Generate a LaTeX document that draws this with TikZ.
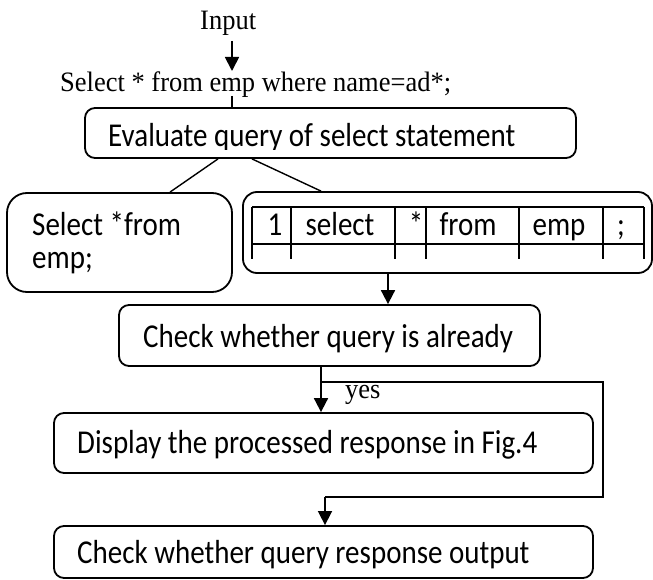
\documentclass[tikz,border=0pt]{standalone}
\usepackage{fontspec}
\usepackage{graphicx}
\setmainfont{Liberation Serif}
\newfontfamily\calfont{Carlito}
\newcommand\vstretch[1]{\scalebox{1}[1.15]{#1}}
\newcommand\vstretchs[1]{\scalebox{1}[1.06]{#1}}
\usetikzlibrary{arrows.meta}
\begin{document}
\begin{tikzpicture}[x=1pt,y=-1pt,
  box/.style={draw,line width=1.8pt,inner sep=0pt},
  serif/.style={inner sep=0pt,anchor=base west,font=\fontsize{26.5}{30}\selectfont},
  cal/.style={inner sep=0pt,anchor=base west,font=\calfont\fontsize{29}{34}\selectfont},
  calc/.style={inner sep=0pt,anchor=base,font=\calfont\fontsize{29}{34}\selectfont},
  arr/.style={line width=1.8pt,-{Triangle[length=14pt,width=14pt]}},
  thin/.style={line width=1.4pt},
  tab/.style={line width=1.8pt}]
\useasboundingbox (0,0) rectangle (653,580);

% boxes
\node[box,rounded corners=10pt,minimum width=491pt,minimum height=50pt] (eval) at (330.5,133) {};
\node[box,rounded corners=20pt,minimum width=225pt,minimum height=99pt] (lbox) at (119.5,242.5) {};
\node[box,rounded corners=14pt,minimum width=409pt,minimum height=81pt] (rbox) at (447.5,232.5) {};
\node[box,rounded corners=10pt,minimum width=421pt,minimum height=61pt] (chk) at (329.5,335.5) {};
\node[box,rounded corners=10pt,minimum width=539pt,minimum height=60pt] (disp) at (323.5,443) {};
\node[box,rounded corners=10pt,minimum width=539pt,minimum height=52pt] (resp) at (323.5,552) {};

% top texts
\node[serif] (inp) at (200,30) {\vstretchs{Input}};
\node[serif] (sel) at (60,92) {\vstretchs{Select * from emp where name=ad*;}};
\node[serif] (yes) at (345,398) {\vstretchs{yes}};

% box texts (clipped as in the original)
\begin{scope}
\clip (85,108) rectangle (576,149.5);
\node[cal] (evalt) at (108,147) {\vstretch{Evaluate query of select statement}};
\end{scope}
\begin{scope}
\clip (7,193) rectangle (232,275);
\node[cal] (lt1) at (32,235) {\vstretch{Select *from}};
\node[cal] (lt2) at (32,268) {\vstretch{emp;}};
\end{scope}
\node[cal] (chkt) at (143,347) {\vstretch{Check whether query is already}};
\node[cal] (dispt) at (77,453) {\vstretch{Display the processed response in Fig.4}};
\begin{scope}
\clip (54,526) rectangle (593,580);
\node[cal] (respt) at (77,563) {\vstretch{Check whether query response output}};
\end{scope}

% table inside right box
\draw[tab] (252,207) -- (644,207);
\draw[tab] (252,244) -- (644,244);
\foreach \cx in {252,291,395,426,519,603,644}
  \draw[tab] (\cx,207) -- (\cx,259);
\node[calc] (c1) at (275,235) {\vstretch{1}};
\node[calc] (c2) at (340,235) {\vstretch{select}};
\node[calc] (c3) at (416,235) {\vstretch{*}};
\node[calc] (c4) at (468,235) {\vstretch{from}};
\node[calc] (c5) at (559,235) {\vstretch{emp}};
\node[calc] (c6) at (621,235) {\vstretch{;}};

% connectors
\coordinate (a1) at (232,41);
\draw[arr] (a1) -- (232,71);
\coordinate (s1) at (232,96);
\draw[line width=1.6pt] (s1) -- (eval.north -| s1);
\draw[thin] (eval.south -| 218,0) -- (lbox.north -| 170,0);
\draw[thin] (eval.south -| 252,0) -- (rbox.north -| 321,0);
\draw[arr] (rbox.south -| 388,0) -- (chk.north -| 388,0);
\draw[arr] (chk.south -| 321,0) -- (disp.north -| 321,0);
\coordinate (br) at (321,382);
\coordinate (bk) at (603,382);
\coordinate (bl) at (603,497);
\coordinate (bm) at (325,497);
\draw[thin] (br) -- (bk) -- (bl) -- (bm);
\draw[arr,line width=1.6pt] (bm) -- (resp.north -| bm);
\end{tikzpicture}
\end{document}
